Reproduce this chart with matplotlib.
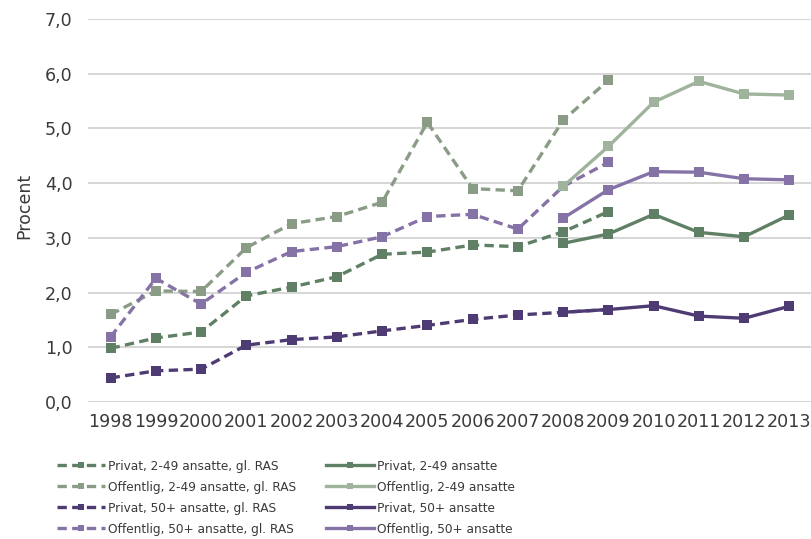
import numpy as np
import matplotlib
matplotlib.use("Agg")
import matplotlib.pyplot as plt
from matplotlib.ticker import FuncFormatter

YEARS = list(range(1998, 2014))
YEARS_RAS = list(range(1998, 2010))
YEARS_NEW = list(range(2008, 2014))

# gl. RAS series, 1998-2009
privat_small_ras = [0.98, 1.17, 1.28, 1.94, 2.10, 2.29, 2.70, 2.74, 2.87, 2.84, 3.11, 3.48]
offentlig_small_ras = [1.60, 2.03, 2.02, 2.82, 3.26, 3.39, 3.65, 5.11, 3.90, 3.86, 5.15, 5.88]
privat_large_ras = [0.44, 0.57, 0.60, 1.04, 1.14, 1.19, 1.30, 1.40, 1.51, 1.59, 1.64, 1.69]
offentlig_large_ras = [1.19, 2.26, 1.79, 2.37, 2.75, 2.84, 3.02, 3.39, 3.43, 3.16, 3.94, 4.38]

# new series, 2008-2013
privat_small = [2.90, 3.07, 3.43, 3.10, 3.02, 3.42]
offentlig_small = [3.94, 4.67, 5.48, 5.86, 5.63, 5.61]
privat_large = [1.64, 1.69, 1.76, 1.57, 1.53, 1.75]
offentlig_large = [3.36, 3.88, 4.21, 4.20, 4.08, 4.06]

C_PS = "#5f8064"
C_OS_RAS = "#8a9c86"
C_OS = "#a0b39c"
C_PL = "#4f3b74"
C_OL = "#8572a6"
TXT = "#3a3a3a"

plt.rcParams['font.family'] = ['DejaVu Sans']

fig = plt.figure(figsize=(8.12, 5.39), dpi=100)
ax = fig.add_axes([88 / 812, 1 - 402 / 539, 1 - 88 / 812, (402 - 19) / 539])

x_ras = [YEARS.index(y) for y in YEARS_RAS]
x_new = [YEARS.index(y) for y in YEARS_NEW]

lw = 2.4
ms = 6.6
dash = (2.8, 1.6)

ras = [
    (privat_small_ras, C_PS, "Privat, 2-49 ansatte, gl. RAS"),
    (offentlig_small_ras, C_OS_RAS, "Offentlig, 2-49 ansatte, gl. RAS"),
    (privat_large_ras, C_PL, "Privat, 50+ ansatte, gl. RAS"),
    (offentlig_large_ras, C_OL, "Offentlig, 50+ ansatte, gl. RAS"),
]
new = [
    (privat_small, C_PS, "Privat, 2-49 ansatte"),
    (offentlig_small, C_OS, "Offentlig, 2-49 ansatte"),
    (privat_large, C_PL, "Privat, 50+ ansatte"),
    (offentlig_large, C_OL, "Offentlig, 50+ ansatte"),
]

handles = []
for vals, c, lab in ras:
    h, = ax.plot(x_ras, vals, color=c, lw=lw, ls=(0, dash), marker="s", ms=ms,
                 mew=0, label=lab, zorder=3)
    handles.append(h)
for vals, c, lab in new:
    h, = ax.plot(x_new, vals, color=c, lw=lw, marker="s", ms=ms, mew=0,
                 label=lab, zorder=4)
    handles.append(h)

ax.set_ylim(0, 7)
ax.set_yticks(np.arange(0, 8, 1))
ax.yaxis.set_major_formatter(FuncFormatter(lambda v, p: f"{v:.1f}".replace(".", ",")))
ax.set_xlim(-0.5, len(YEARS) - 0.5)
ax.set_xticks(range(len(YEARS)))
ax.set_xticklabels([str(y) for y in YEARS])
ax.grid(axis="y", color="#d0d0d0", lw=1.2)
ax.set_axisbelow(True)
for s in ax.spines.values():
    s.set_visible(False)
ax.tick_params(axis="both", length=0, labelsize=12.6, colors=TXT)
ax.tick_params(axis="y", pad=11)
ax.tick_params(axis="x", pad=8)
ax.set_ylabel("Procent", fontsize=12.5, color=TXT)
ax.yaxis.set_label_coords(-0.075, 0.513)

leg = fig.legend(handles=handles, ncol=2, loc="upper left",
                 bbox_to_anchor=(50 / 812, 1 - 453 / 539), frameon=False,
                 prop={"family": "DejaVu Sans", "stretch": "condensed", "size": 9.7},
                 labelcolor=TXT, handlelength=3.6, handletextpad=0.2,
                 columnspacing=2.2, labelspacing=0.6, borderpad=0, markerscale=0.7)

fig.savefig("out.png", dpi=100)
